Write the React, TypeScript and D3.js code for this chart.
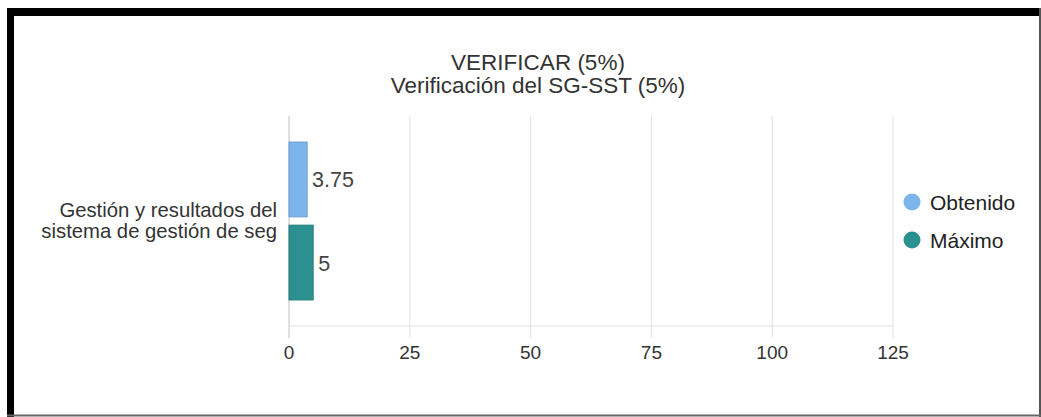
import { useEffect, useRef } from 'react';
import * as d3 from 'd3';

const titleLines = ['VERIFICAR (5%)', 'Verificación del SG-SST (5%)'];
const categories = ['Gestión y resultados del sistema de gestión de seg'];
const categoryLines = ['Gestión y resultados del', 'sistema de gestión de seg'];
const seriesNames = ['Obtenido', 'Máximo'];
const seriesColors = ['#7cb5ec', '#2b908f'];
const obtenido = [3.75];
const maximo = [5];
const tickValues = [0, 25, 50, 75, 100, 125];

const W = 1041;
const H = 417;
const FONT = '"Liberation Sans", Arial, Helvetica, sans-serif';

const App = () => {
    const svgRef = useRef<SVGSVGElement | null>(null);

    useEffect(() => {
        const svg = d3.select(svgRef.current).attr('width', W).attr('height', H);
        svg.selectAll('*').remove();

        const plot = { left: 289, right: 893, top: 116, bottom: 326 };

        const x = d3.scaleLinear().domain([0, 125]).range([plot.left, plot.right]);
        const y0 = d3.scaleBand().domain(categories).range([plot.top, plot.bottom]).paddingOuter(0.165).paddingInner(0);
        const y1 = d3.scaleBand().domain(seriesNames).range([0, y0.bandwidth()]).paddingInner(0.1);

        svg.append('rect').attr('width', W).attr('height', H).attr('fill', '#fff');

        // frame around the screenshot
        svg.append('rect').attr('x', 7).attr('y', 8).attr('width', W - 7).attr('height', 8).attr('fill', '#000');
        svg.append('rect').attr('x', 7).attr('y', 8).attr('width', 7).attr('height', H - 8).attr('fill', '#000');
        svg.append('rect').attr('x', W - 2).attr('y', 8).attr('width', 2).attr('height', H - 8).attr('fill', '#555');
        svg.append('rect').attr('x', 7).attr('y', H - 2.5).attr('width', W - 7).attr('height', 2).attr('fill', '#666');

        // title
        svg.append('g').selectAll('text')
            .data(titleLines)
            .enter()
            .append('text')
            .attr('x', 538)
            .attr('y', (d, i) => 69.5 + i * 23.5)
            .attr('text-anchor', 'middle')
            .style('font-family', FONT)
            .style('font-size', '22.5px')
            .style('fill', '#333')
            .text(d => d);

        // grid + ticks
        svg.append('g').selectAll('line')
            .data(tickValues)
            .enter()
            .append('line')
            .attr('x1', d => x(d))
            .attr('x2', d => x(d))
            .attr('y1', plot.top)
            .attr('y2', plot.bottom + 12)
            .attr('stroke', d => (d === 0 ? '#cccccc' : '#e6e6e6'))
            .attr('stroke-width', 1.2);

        svg.append('line')
            .attr('x1', plot.left)
            .attr('x2', plot.right)
            .attr('y1', plot.bottom)
            .attr('y2', plot.bottom)
            .attr('stroke', '#e0e0e0')
            .attr('stroke-width', 1.2);

        svg.append('g').selectAll('text')
            .data(tickValues)
            .enter()
            .append('text')
            .attr('x', d => x(d))
            .attr('y', 359)
            .attr('text-anchor', 'middle')
            .style('font-family', FONT)
            .style('font-size', '19px')
            .style('fill', '#333')
            .text(d => d);

        // category label
        const cy = (y0(categories[0]) as number) + y0.bandwidth() / 2;
        svg.append('text')
            .attr('text-anchor', 'end')
            .style('font-family', FONT)
            .style('font-size', '20.3px')
            .style('fill', '#333')
            .selectAll('tspan')
            .data(categoryLines)
            .enter()
            .append('tspan')
            .attr('x', 277)
            .attr('y', (d, i) => cy - 4.5 + i * 21)
            .text(d => d);

        // bars
        const seriesValues = [obtenido, maximo];
        const rows = categories.flatMap((c, ci) =>
            seriesNames.map((s, si) => ({ cat: c, name: s, value: seriesValues[si][ci], color: seriesColors[si] }))
        );

        const barG = svg.append('g');
        barG.selectAll('rect')
            .data(rows)
            .enter()
            .append('rect')
            .attr('x', x(0))
            .attr('y', d => (y0(d.cat) as number) + (y1(d.name) as number))
            .attr('width', d => x(d.value) - x(0))
            .attr('height', y1.bandwidth())
            .attr('fill', d => d.color)
            .attr('stroke', d => d3.color(d.color)!.darker(0.4).toString())
            .attr('stroke-width', 1);

        barG.selectAll('text')
            .data(rows)
            .enter()
            .append('text')
            .attr('x', d => x(d.value) + 5)
            .attr('y', d => (y0(d.cat) as number) + (y1(d.name) as number) + y1.bandwidth() / 2 + 8)
            .style('font-family', FONT)
            .style('font-size', '21.5px')
            .style('fill', '#444')
            .text(d => d.value);

        // legend
        const legend = svg.append('g').selectAll('g')
            .data(seriesNames)
            .enter()
            .append('g')
            .attr('transform', (d, i) => `translate(912, ${202 + i * 38})`);

        legend.append('circle')
            .attr('r', 8.5)
            .attr('fill', (d, i) => seriesColors[i]);

        legend.append('text')
            .attr('x', 18)
            .attr('y', 7.5)
            .style('font-family', FONT)
            .style('font-size', '21px')
            .style('fill', '#222')
            .text(d => d);
    }, []);

    return (
        <div style={{ position: 'absolute', left: 0, top: 0 }}>
            <svg ref={svgRef} style={{ display: 'block' }} />
        </div>
    );
};

export default App;
